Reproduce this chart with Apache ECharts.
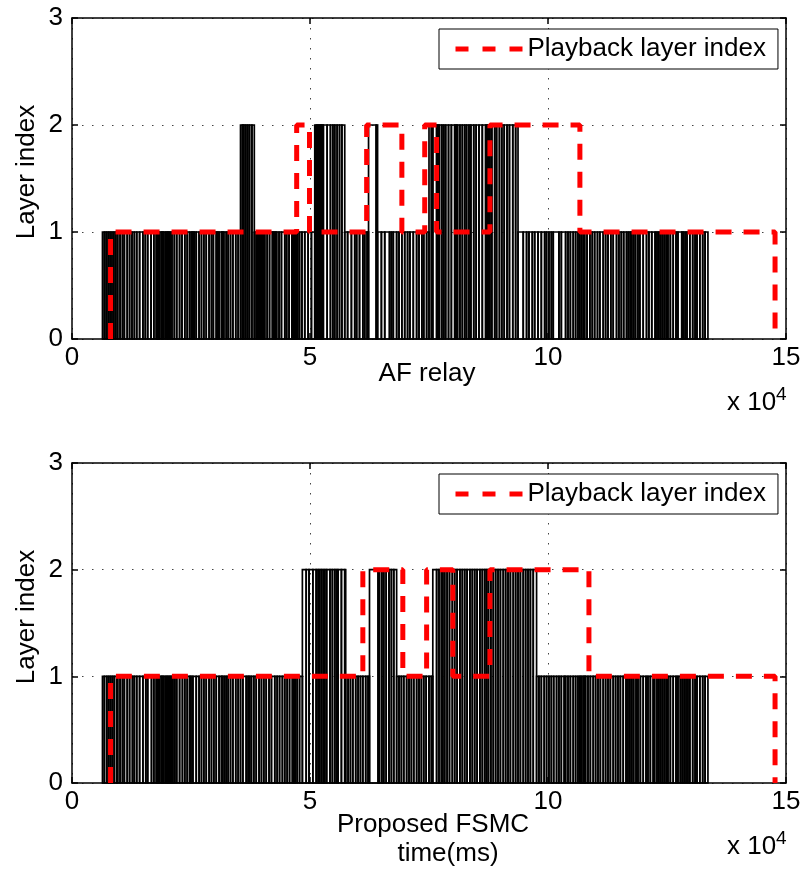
<!DOCTYPE html>
<html>
<head>
<meta charset="utf-8">
<title>Layer index over time</title>
<script src="https://cdn.jsdelivr.net/npm/echarts@6/dist/echarts.min.js"></script>
<style>
  html, body { margin: 0; padding: 0; background: #fff; }
  #chart { width: 806px; height: 880px; }
</style>
</head>
<body>
<div id="chart"></div>
<script>
// Received layer per packet interval (time in ms). Each run holds the
// interval boundaries for one stretch of constant layer index.
const afRunLevels = [1, 2, 1, 2, 1, 2, 1, 2, 1];
const afRunEdges = [
  [6400, 6800, 7200, 7600, 8000, 8400, 8800, 9200, 9600, 10100, 10600, 11000, 11600, 12100, 12600, 13100, 13600, 14200, 14900, 15400, 15900, 16600, 17200, 17700, 18000, 18200, 18400, 18800, 19000, 19300, 19700, 20000, 20300, 20600, 21000, 21500, 22000, 22600, 23100, 23700, 24200, 24700, 25100, 25400, 25700, 26100, 26700, 27200, 27700, 28200, 28800, 29300, 29700, 30300, 30600, 30900, 31400, 31600, 31900, 32400, 32800, 33300, 33800, 34400, 34900, 35400],
  [35400, 35800, 36100, 36500, 36900, 37300, 37800, 38300],
  [38300, 38700, 39000, 39300, 39600, 39900, 40200, 40500, 41000, 41500, 42100, 42400, 42700, 43000, 43500, 44000, 44700, 45100, 45600, 46200, 46500, 46800, 47100, 47400, 47800, 48300, 48900, 49600, 50300, 51000],
  [51000, 51300, 51600, 51900, 52200, 52500, 52800, 53600, 54300, 54800, 55200, 55700, 56200, 56700, 57300],
  [57300, 57900, 58700, 59400, 59800, 60400, 61100, 61500, 62000, 62300],
  [62300, 63900, 64200],
  [64200, 65000, 65700, 66700, 67100, 67500, 68200, 68700, 69300, 69900, 70500, 71000, 71700, 72400, 72900, 73500, 73900, 74500, 75000],
  [75000, 75500, 75800, 76600, 76900, 77200, 77700, 78100, 78500, 79100, 79700, 80400, 80700, 81000, 81500, 82000, 82500, 82900, 83400, 83800, 84400, 84900, 85500, 86200, 86900, 87200, 87500, 87800, 88200, 88800, 89200, 89800, 90300, 90800, 91400, 91900, 92600, 93200, 93700],
  [93700, 94800, 95500, 96000, 96700, 97200, 97900, 98600, 99300, 99700, 100200, 100700, 101100, 102300, 102800, 103700, 104200, 104700, 105300, 105800, 106300, 106700, 107100, 107500, 107700, 108200, 108800, 109300, 109800, 110400, 110900, 111600, 112100, 112600, 113200, 113700, 114400, 114900, 115400, 115900, 116500, 116900, 117300, 117600, 118000, 118400, 118900, 119300, 120000, 120700, 121200, 121800, 122500, 122900, 123300, 123700, 124100, 124500, 124900, 125200, 125700, 126300, 126900, 127300, 128100, 128400, 128800, 129200, 129800, 130400, 130900, 131300, 131900, 132500, 133000, 133600]
];

const fsmcRunLevels = [1, 2, 1, 2, 1, 2, 1];
const fsmcRunEdges = [
  [6400, 6800, 7300, 7700, 8100, 8500, 8900, 9400, 9600, 10100, 10600, 11000, 11600, 12100, 12700, 13100, 13600, 14200, 14900, 15500, 15900, 16700, 17200, 17700, 18000, 18200, 18400, 18800, 19000, 19300, 19700, 20000, 20300, 20600, 20900, 21200, 21600, 22000, 22600, 23200, 23700, 24200, 24700, 25000, 25400, 26100, 26700, 27200, 27700, 28200, 28800, 29300, 29800, 30300, 30900, 31400, 31600, 32000, 32400, 32800, 33300, 33800, 34400, 34900, 35400, 35900, 36600, 37000, 37300, 37700, 38200, 38700, 39300, 39800, 40300, 40800, 41400, 41900, 42600, 43100, 43600, 44200, 44700, 45200, 45700, 46300, 46600, 46900, 47300, 47800, 48400],
  [48400, 49200, 49800, 50600, 51300, 51700, 52000, 52400, 52800, 53100, 53500, 54200, 54700, 55200, 55600, 55900, 56600, 57300, 57500],
  [57500, 58000, 58500, 59000, 59600, 60100, 60600, 61100, 61700, 62200, 62500],
  [62500, 64300, 64600, 65100, 65500, 66000, 66600, 67100, 67600, 68200],
  [68200, 68700, 69200, 69700, 70300, 70800, 71300, 71800, 72400, 72900, 73400, 73900, 74400, 75000, 75500, 75800],
  [75800, 76600, 77100, 77600, 77900, 78300, 78800, 79300, 79900, 80400, 80900, 81500, 82000, 82500, 83000, 83600, 84100, 84600, 85100, 85700, 86200, 86700, 87100, 87500, 88000, 88500, 89000, 89500, 90000, 90600, 91100, 91600, 92100, 92700, 93200, 93700, 94200, 94800, 95300, 95800, 96300, 96900, 97600],
  [97600, 98100, 98600, 99200, 99700, 100200, 100700, 101200, 101800, 102300, 102800, 103400, 103700, 104200, 104700, 105300, 105800, 106300, 106700, 107000, 107400, 107700, 107900, 108400, 108900, 109500, 110000, 110500, 111000, 111600, 112100, 112600, 113100, 113700, 114200, 114700, 115200, 115800, 116400, 116800, 117200, 117600, 118000, 118500, 118900, 119400, 120000, 120600, 121000, 121500, 122100, 122400, 122900, 123300, 123700, 124100, 124500, 124900, 125200, 125700, 126300, 126900, 127300, 127800, 128200, 128600, 129000, 129400, 129800, 130400, 130900, 131300, 131900, 132500, 133000, 133600]
];

// Playback layer index: level that starts at each listed time (ms)
const afPlayTime   = [8100, 8100, 47200, 49900, 61900, 69300, 74100, 76600, 87800, 106700, 147700];
const afPlayLevel  = [0, 1, 2, 1, 2, 1, 2, 1, 2, 1, 0];
const fsmcPlayTime  = [8100, 8100, 61100, 69500, 74500, 80000, 87800, 108600, 147700];
const fsmcPlayLevel = [0, 1, 2, 1, 2, 1, 2, 1, 0];

const xTickValues = [0, 50000, 100000, 150000];
const yTickValues = [0, 1, 2, 3];
const legendName = 'Playback layer index';

const FONT = "'Liberation Sans', Arial, Helvetica, sans-serif";

function buildBars(runLevels, runEdges) {
  const out = [];
  runEdges.forEach(function (edges, r) {
    for (let i = 0; i < edges.length - 1; i++) {
      out.push([edges[i], edges[i + 1], runLevels[r]]);
    }
  });
  return out;
}

function zip(xs, ys) {
  return xs.map(function (x, i) { return [x, ys[i]]; });
}

function renderBar(params, api) {
  const p0 = api.coord([api.value(0), api.value(2)]);
  const p1 = api.coord([api.value(1), 0]);
  return {
    type: 'rect',
    shape: { x: p0[0], y: p0[1], width: p1[0] - p0[0], height: p1[1] - p0[1] },
    style: { fill: 'none', stroke: '#000', lineWidth: 1.7 }
  };
}

const gridDots = { color: '#444', width: 1, type: [1.5, 8.5] };

function xAxes(gi) {
  const base = {
    type: 'value', gridIndex: gi, min: 0, max: 150000, interval: 50000,
    axisLine: { show: true, onZero: false, lineStyle: { color: '#000', width: 1.5 } },
    axisTick: { show: true, inside: true, length: 6, lineStyle: { color: '#000', width: 1.5 } }
  };
  return [
    Object.assign({}, base, {
      position: 'bottom',
      axisLabel: {
        color: '#000', fontSize: 26, fontFamily: FONT, margin: 6,
        formatter: function (v) { return xTickValues.indexOf(v) >= 0 ? String(v / 10000) : ''; }
      },
      splitLine: { show: true, lineStyle: gridDots }
    }),
    Object.assign({}, base, {
      position: 'top', axisLabel: { show: false }, splitLine: { show: false }
    })
  ];
}

function yAxes(gi) {
  const base = {
    type: 'value', gridIndex: gi, min: 0, max: 3, interval: 1,
    axisLine: { show: true, onZero: false, lineStyle: { color: '#000', width: 1.5 } },
    axisTick: { show: true, inside: true, length: 6, lineStyle: { color: '#000', width: 1.5 } }
  };
  return [
    Object.assign({}, base, {
      position: 'left',
      axisLabel: {
        color: '#000', fontSize: 26, fontFamily: FONT, margin: 9,
        formatter: function (v) { return yTickValues.indexOf(v) >= 0 ? String(v) : ''; }
      },
      splitLine: { show: true, lineStyle: gridDots }
    }),
    Object.assign({}, base, {
      position: 'right', axisLabel: { show: false }, splitLine: { show: false }
    })
  ];
}

function legendAt(top) {
  return {
    left: 439, top: top, orient: 'horizontal',
    padding: [7, 12, 7, 14],
    borderColor: '#000', borderWidth: 1, backgroundColor: '#fff',
    itemWidth: 67, itemHeight: 14,
    selectedMode: false,
    lineStyle: { type: [13, 14], width: 5 },
    itemStyle: { color: 'rgba(0,0,0,0)', borderWidth: 0 },
    textStyle: { color: '#000', fontSize: 26, fontFamily: FONT },
    data: [legendName]
  };
}

function playbackSeries(axisIdx, data) {
  return {
    name: legendName, type: 'line', xAxisIndex: axisIdx, yAxisIndex: axisIdx,
    data: data, step: 'end', symbol: 'none', z: 4,
    lineStyle: { color: '#ff0000', width: 5, type: [16, 12] },
    itemStyle: { color: '#ff0000' }
  };
}

function barSeries(axisIdx, data) {
  return {
    type: 'custom', xAxisIndex: axisIdx, yAxisIndex: axisIdx,
    renderItem: renderBar, data: data, z: 3,
    encode: { x: [0, 1], y: 2 }, silent: true
  };
}

function label(text, x, y, opts) {
  return {
    type: 'text', x: x, y: y, rotation: (opts && opts.rotation) || 0,
    style: Object.assign({
      text: text, fill: '#000', fontSize: 26, fontFamily: FONT,
      textAlign: 'center', textVerticalAlign: 'middle'
    }, opts && opts.style)
  };
}

const chart = echarts.init(document.getElementById('chart'), null, { renderer: 'canvas' });

chart.setOption({
  animation: false,
  backgroundColor: '#fff',
  grid: [
    { left: 72, right: 20, top: 18, height: 321 },
    { left: 72, right: 20, top: 463, height: 320 }
  ],
  xAxis: xAxes(0).concat(xAxes(1)),
  yAxis: yAxes(0).concat(yAxes(1)),
  legend: [legendAt(29), legendAt(474)],
  series: [
    barSeries(0, buildBars(afRunLevels, afRunEdges)),
    playbackSeries(0, zip(afPlayTime, afPlayLevel)),
    barSeries(2, buildBars(fsmcRunLevels, fsmcRunEdges)),
    playbackSeries(2, zip(fsmcPlayTime, fsmcPlayLevel))
  ],
  graphic: [
    label('Layer index', 27, 172, { rotation: Math.PI / 2 }),
    label('Layer index', 27, 617, { rotation: Math.PI / 2 }),
    label('AF relay', 427, 374),
    label('x 10', 727, 403, { style: { textAlign: 'left' } }),
    label('4', 776, 395, { style: { textAlign: 'left', fontSize: 19 } }),
    label('Proposed FSMC', 433, 825),
    label('time(ms)', 448, 854),
    label('x 10', 727, 847, { style: { textAlign: 'left' } }),
    label('4', 776, 839, { style: { textAlign: 'left', fontSize: 19 } })
  ]
});
</script>
</body>
</html>
